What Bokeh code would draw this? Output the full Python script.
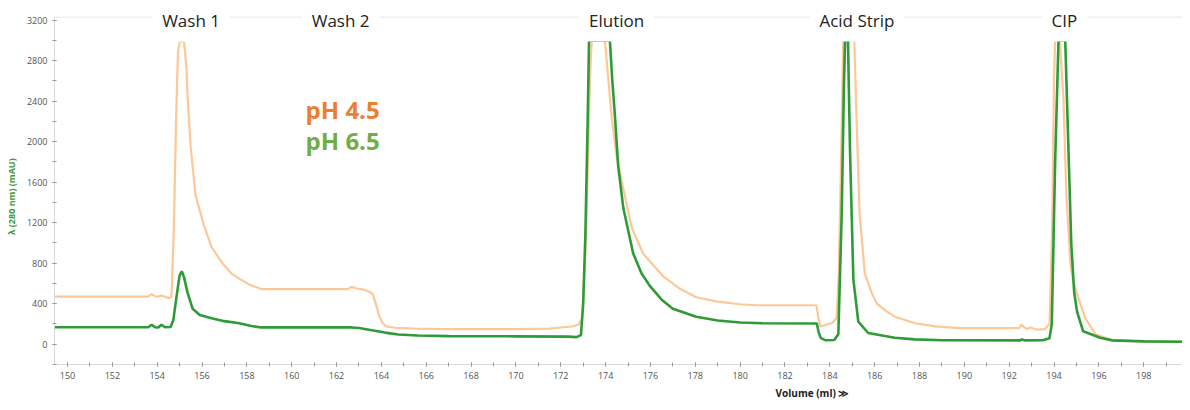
import math
from bokeh.plotting import figure
from bokeh.models import Label, Span, SingleIntervalTicker, Range1d
from bokeh.embed import file_html
from bokeh.resources import INLINE

# pH 4.5 trace (orange)
vol_ph45 = [149.42, 153.6, 153.75, 153.9, 154.05, 154.19, 154.35, 154.55, 154.64, 154.75, 154.85, 154.93,
            155.0, 155.1, 155.2, 155.3, 155.36, 155.49, 155.71, 156.07, 156.42, 156.91, 157.3, 157.71, 158.1,
            158.46, 158.64, 160.0, 162.5, 162.67, 162.9, 163.2, 163.42, 163.6, 163.75, 163.9, 164.05, 164.22,
            164.6, 165.5, 167.0, 170.0, 171.5, 172.0, 172.5, 172.8, 172.95, 173.1, 173.2, 173.3, 173.38,
            173.97, 174.08, 174.27, 174.49, 174.79, 175.16, 175.67, 176.56, 177.3, 178.04, 179.0, 180.0,
            180.7, 183.4, 183.5, 183.57, 183.8, 184.1, 184.3, 184.4, 184.5, 184.6, 185.09, 185.19, 185.33,
            185.56, 185.86, 186.1, 186.5, 186.9, 187.8, 188.7, 189.8, 192.45, 192.55, 192.65, 192.8, 192.95,
            193.2, 193.6, 193.8, 193.92, 194.0, 194.05, 194.25, 194.42, 194.55, 194.73, 194.86, 195.1, 195.4,
            195.85, 196.6, 198.0, 199.73]
abs_ph45 = [470, 470, 495, 472, 470, 482, 468, 456, 470, 1200, 2300, 2900,
            2980, 3000, 2980, 2750, 2432, 1952, 1472, 1184, 960, 800, 700, 640, 590,
            560, 545, 545, 545, 566, 550, 540, 521, 500, 400, 280, 210, 176,
            163, 155, 150, 150, 155, 165, 175, 195, 250, 900, 1700, 2600, 3000,
            3000, 2720, 2240, 1860, 1536, 1155, 896, 672, 550, 464, 420, 395,
            385, 385, 250, 176, 190, 210, 260, 700, 1800, 3000, 3000, 2240, 1280,
            700, 512, 400, 330, 272, 207, 176, 160, 160, 195, 170, 150, 165,
            145, 150, 200, 1200, 2600, 3000, 3000, 2432, 1472, 800, 610, 445, 256,
            99, 40, 28, 25]

# pH 6.5 trace (green)
vol_ph65 = [149.42, 153.6, 153.75, 153.9, 154.05, 154.19, 154.35, 154.6, 154.72, 154.85, 155.0, 155.1,
            155.2, 155.35, 155.58, 155.9, 156.47, 157.0, 157.66, 158.2, 158.64, 162.67, 163.0, 163.57,
            164.16, 164.75, 165.63, 167.0, 170.0, 172.3, 172.7, 172.9, 173.0, 173.1, 173.2, 173.26, 174.19,
            174.3, 174.42, 174.56, 174.79, 175.23, 175.6, 175.97, 176.5, 177.0, 178.04, 179.0, 180.0, 181.0,
            183.42, 183.5, 183.6, 183.8, 184.2, 184.38, 184.53, 184.63, 184.68, 184.81, 184.9, 185.05,
            185.27, 185.71, 186.9, 187.78, 189.0, 192.5, 192.56, 192.7, 193.5, 193.8, 193.9, 194.05, 194.2,
            194.5, 194.64, 194.77, 194.9, 195.03, 195.3, 196.06, 196.6, 198.0, 199.73]
abs_ph65 = [168, 168, 192, 168, 166, 192, 168, 170, 240, 450, 680, 720,
            660, 512, 351, 288, 255, 228, 207, 180, 166, 166, 160, 138,
            115, 96, 86, 80, 78, 75, 70, 90, 400, 1100, 2200, 3000, 3000,
            2600, 2240, 1760, 1344, 896, 700, 576, 440, 351, 272, 235, 215, 207,
            205, 120, 60, 40, 42, 99, 1280, 2560, 3000, 3000, 1920, 640,
            224, 111, 64, 48, 40, 38, 48, 38, 40, 60, 200, 1800, 3000,
            3000, 1950, 990, 510, 320, 128, 64, 38, 28, 25]

# Section names above the peaks
section_names = ["Wash 1", "Wash 2", "Elution", "Acid Strip", "CIP"]
section_x = [155.51, 162.18, 174.49, 185.21, 194.46]

series_names = ["pH 4.5", "pH 6.5"]
series_label_y = [2319, 2016]
series_colors_text = ["#ED7D31", "#70AD47"]

X_START, X_END = 149.42, 199.73
Y_START, Y_TOP, Y_END = -200, 3229, 3344

NB = "\u00a0"

p = figure(width=1182, height=402, output_backend="svg", toolbar_location=None,
           x_range=Range1d(X_START, X_END), y_range=Range1d(Y_START, Y_END),
           min_border_left=54, min_border_right=0, min_border_top=5, min_border_bottom=35)
p.outline_line_color = None
p.xgrid.grid_line_color = None
p.ygrid.grid_line_color = None
p.background_fill_color = "white"
p.border_fill_color = "white"

for ax in (p.xaxis[0], p.yaxis[0]):
    ax.axis_line_color = "#d9d9d9"
    ax.major_tick_line_color = "#9a9a9a"
    ax.minor_tick_line_color = "#9a9a9a"
    ax.major_tick_in = 2
    ax.major_tick_out = 2
    ax.minor_tick_in = 2
    ax.minor_tick_out = 2
    ax.major_label_text_font = "Open Sans"
    ax.major_label_text_font_size = "9px"
    ax.major_label_text_color = "#555555"
    ax.major_label_standoff = 5
    ax.axis_label_text_font = "Open Sans"
    ax.axis_label_text_font_style = "bold"
    ax.axis_label_standoff = 6

p.xaxis.ticker = SingleIntervalTicker(interval=2, num_minor_ticks=2)
p.yaxis.ticker = SingleIntervalTicker(interval=400, num_minor_ticks=2)
p.yaxis.bounds = (Y_START, Y_TOP)

p.yaxis.axis_label = "λ (280 nm) (mAU)" + NB * 10
p.yaxis.axis_label_text_color = "#3A9A3A"
p.yaxis.axis_label_text_font_size = "9px"

p.xaxis.axis_label = NB * 149 + "Volume (ml) ≫"
p.xaxis.axis_label_text_color = "#222222"
p.xaxis.axis_label_text_font_size = "10px"
p.xaxis.axis_label_standoff = 4

# top border line
p.add_layout(Span(location=Y_TOP, dimension="width", line_color="#e6e6e6", line_width=1))

p.line(vol_ph45, abs_ph45, line_color="#FDC896", line_width=2.2)
p.line(vol_ph65, abs_ph65, line_color="#2E9B38", line_width=2.6)

for name, xx in zip(section_names, section_x):
    p.add_layout(Label(x=xx, y=3200, text=name, text_align="center", text_baseline="middle",
                       text_font="Open Sans", text_font_size="17px", text_color="#222222",
                       background_fill_color="white", padding=10))

for name, yy, col in zip(series_names, series_label_y, series_colors_text):
    p.add_layout(Label(x=160.62, y=yy, text=name, text_align="left", text_baseline="middle",
                       text_font="Open Sans", text_font_style="bold", text_font_size="24px",
                       text_color=col))

open("out.html", "w").write(file_html(p, INLINE))
